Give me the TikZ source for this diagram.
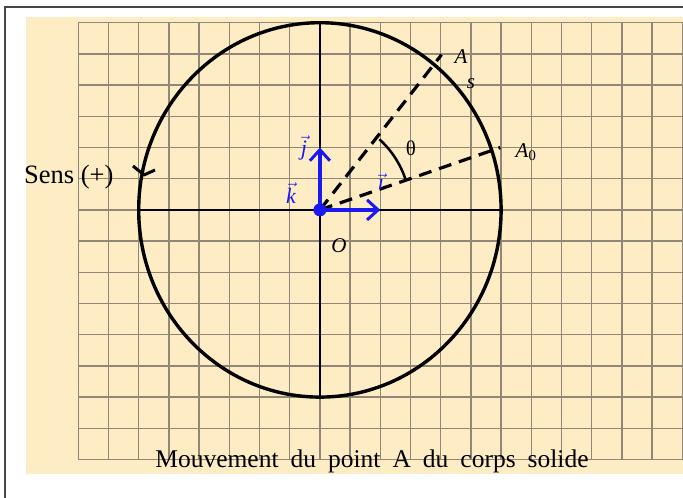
\documentclass[tikz,border=0pt]{standalone}
\usepackage{fontspec}
\setmainfont{Liberation Serif}
\usetikzlibrary{arrows.meta}
\definecolor{bgy}{RGB}{253,236,196}
\definecolor{gridc}{RGB}{145,135,118}
\definecolor{framec}{RGB}{70,70,70}
\definecolor{vecblue}{RGB}{25,25,240}
\newcommand\capsp{\hspace{12pt}}
\begin{document}
\begin{tikzpicture}[x=1pt,y=-1pt,
  gridl/.style={draw=gridc,line width=1.4pt},
  framel/.style={draw=framec,line width=2pt},
  axisl/.style={draw=black,line width=2.6pt},
  circl/.style={draw=black,line width=3.4pt},
  dashl/.style={draw=black,line width=3.2pt,dash pattern=on 13pt off 8pt},
  arcl/.style={draw=black,line width=2.5pt},
  vecl/.style={draw=vecblue,line width=3.5pt,-{Straight Barb[length=11pt,width=20pt,line width=3pt]}},
  lbl/.style={inner sep=0pt,font=\fontsize{21}{25}\selectfont},
  senslbl/.style={inner sep=0pt,font=\fontsize{26.5}{30}\selectfont},
  veclbl/.style={inner sep=0pt,text=vecblue,font=\fontsize{22}{26}\selectfont},
  caption/.style={inner sep=0pt,font=\fontsize{25.5}{30}\selectfont}]
\useasboundingbox (0,0) rectangle (683,498);
\fill[white] (0,0) rectangle (683,498);
\fill[bgy] (26,17.3) rectangle (683,474.3);
\foreach \k in {0,...,20}
  \draw[gridl] ({78.3+30.2*\k},22.7) -- ({78.3+30.2*\k},459.5);
\foreach \j in {0,...,14}
  \draw[gridl] (78.3,{22.7+31.2*\j}) -- (683,{22.7+31.2*\j});
\draw[framel] (5.3,498) -- (5.3,7.3) -- (683,7.3);
\begin{scope}[shift={(319.9pt,-209.9pt)},x=30.2pt,y=31.2pt]
  \coordinate (O) at (0,0);
  \coordinate (L) at (180:6);
  \coordinate (R) at (0:6);
  \coordinate (T) at (90:6);
  \coordinate (B) at (270:6);
  \coordinate (A) at (51:6.4);
  \coordinate (A0) at (18.5:6.3);
  \coordinate (I) at (2,0);
  \coordinate (J) at (0,2);
  \draw[axisl] (L) -- (R);
  \draw[axisl] (T) -- (B);
  \draw[circl] (O) ellipse [x radius=6, y radius=6];
  \draw[dashl] (O) -- (A);
  \draw[dashl] (O) -- (A0);
  \draw[arcl] (18.5:3) arc [start angle=18.5, end angle=49, x radius=3, y radius=3];
  \draw[vecl] (O) -- (J);
  \draw[vecl] (O) -- (I);
  \fill[vecblue] (O) circle [radius=6.5pt];
\end{scope}
\coordinate (sw1) at (133,166);
\coordinate (stip) at (144,175);
\coordinate (sw2) at (155,170);
\draw[line width=3pt,line join=round] (sw1) -- (stip) -- (sw2);
\node[senslbl,anchor=base west] (sens) at (24,183) {Sens (+)};
\node[lbl] (lA) at (461,57) {\textit{A}};
\node[lbl] (ls) at (471,84) {\textit{s}};
\node[lbl] (lA0) at (526,152) {\textit{A}\textsubscript{0}};
\node[lbl] (lth) at (411,148) {θ};
\node[lbl] (lO) at (339,246) {\textit{O}};
\node[veclbl] (lj) at (304,148) {$\vec{\textit{j}}$};
\node[veclbl] (lk) at (291,193) {$\vec{\textit{k}}$};
\node[veclbl] (li) at (381,182) {$\vec{\textit{ı}}$};
\node[caption,anchor=base] (cap) at (372,467) {Mouvement\capsp du\capsp point\capsp A\capsp du\capsp corps\capsp solide};
\end{tikzpicture}
\end{document}
